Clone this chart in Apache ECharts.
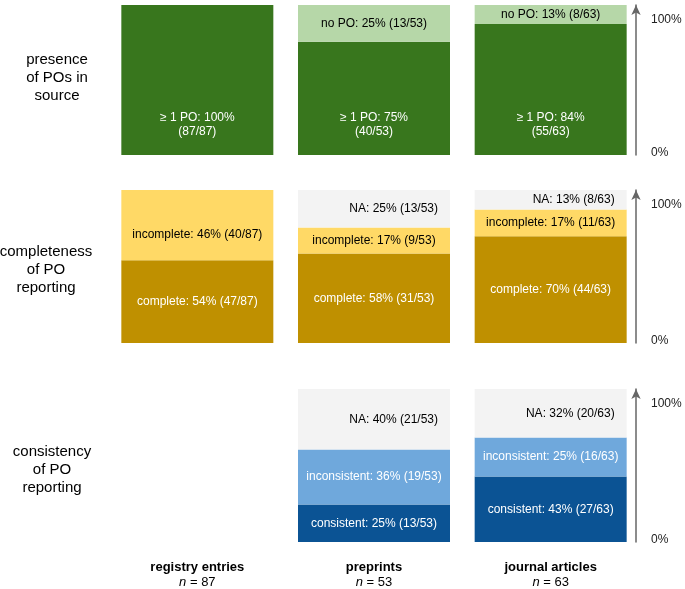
<!DOCTYPE html>
<html>
<head>
<meta charset="utf-8">
<script src="https://cdn.jsdelivr.net/npm/echarts@6/dist/echarts.min.js"></script>
<style>
  html, body { margin: 0; padding: 0; background: #fff; }
  #chart { width: 685px; height: 589px; }
</style>
</head>
<body>
<div id="chart"></div>
<script>
const sources = ["registry entries", "preprints", "journal articles"];
const sampleSizes = [87, 53, 63];
const rowTitles = ["presence\nof POs in\nsource", "completeness\nof PO\nreporting", "consistency\nof PO\nreporting"];

// row 1: presence of POs in source
const onePoCounts = [87, 40, 55];
const onePoPct = [100, 75, 84];
const noPoCounts = [null, 13, 8];
const noPoPct = [null, 25, 13];

// row 2: completeness of PO reporting
const completeCounts = [47, 31, 44];
const completePct = [54, 58, 70];
const incompleteCounts = [40, 9, 11];
const incompletePct = [46, 17, 17];
const complNaCounts = [null, 13, 8];
const complNaPct = [null, 25, 13];

// row 3: consistency of PO reporting
const consistentCounts = [null, 13, 27];
const consistentPct = [null, 25, 43];
const inconsistentCounts = [null, 19, 16];
const inconsistentPct = [null, 36, 25];
const consNaCounts = [null, 21, 20];
const consNaPct = [null, 40, 32];

const FONT = "'Liberation Sans', Arial, sans-serif";
const rowTops = [5, 190, 389];
const rowHeights = [150, 153, 153];
const titlePos = [[57, 78], [46, 270], [52, 470]];

function share(counts) {
    return counts.map((c, i) => (c == null ? null : (c / sampleSizes[i]) * 100));
}

function makeSeries(row, name, counts, pcts, color, textColor, label, extra, itemLabels) {
    const values = share(counts);
    return {
        name: name,
        type: "bar",
        stack: "row" + row,
        xAxisIndex: row,
        yAxisIndex: row,
        barWidth: 152,
        data: itemLabels ? values.map((v, i) => (itemLabels[i] ? { value: v, label: itemLabels[i] } : v)) : values,
        itemStyle: { color: color },
        silent: true,
        label: Object.assign(
            {
                show: true,
                position: "inside",
                color: textColor,
                fontFamily: FONT,
                fontSize: 12,
                lineHeight: 14,
                formatter: (p) => label(pcts[p.dataIndex], counts[p.dataIndex], sampleSizes[p.dataIndex]),
            },
            extra || {}
        ),
    };
}

const grids = rowTops.map((t, i) => ({ left: 109, width: 530, top: t, height: rowHeights[i] }));

const xAxes = rowTops.map((t, i) => ({
    type: "category",
    gridIndex: i,
    data: sources,
    axisLine: { show: false },
    axisTick: { show: false },
    axisLabel: i < 2 ? { show: false } : {
        margin: 18,
        color: "#000",
        fontFamily: FONT,
        fontSize: 13,
        formatter: (v, idx) => "{b|" + v + "}\n{i|n}{r| = " + sampleSizes[idx] + "}",
        rich: {
            b: { fontWeight: "bold", fontSize: 13, lineHeight: 15, fontFamily: FONT, color: "#000" },
            i: { fontStyle: "italic", fontSize: 13, lineHeight: 15, fontFamily: FONT, color: "#000" },
            r: { fontSize: 13, lineHeight: 15, fontFamily: FONT, color: "#000" },
        },
    },
}));

const yAxes = rowTops.map((t, i) => ({
    type: "value",
    gridIndex: i,
    position: "right",
    offset: -3,
    min: 0,
    max: 100,
    interval: 100,
    splitLine: { show: false },
    axisTick: { show: false },
    axisLine: {
        show: true,
        lineStyle: { color: "#666", width: 1.5 },
        symbol: ["none", "arrow"],
        symbolSize: [7, 10],
    },
    axisLabel: {
        margin: 15,
        color: "#222",
        fontFamily: FONT,
        fontSize: 12,
        formatter: (v) => (v === 100 ? "{t|100%}" : "{z|0%}"),
        rich: {
            t: { padding: [30, 0, 0, 0], fontFamily: FONT, fontSize: 12, color: "#222" },
            z: { padding: [0, 0, 4, 0], fontFamily: FONT, fontSize: 12, color: "#222" },
        },
    },
}));

const withCount = (label) => (pct, k, n) => label + ": " + pct + "% (" + k + "/" + n + ")";

const series = [
    makeSeries(0, "≥ 1 PO", onePoCounts, onePoPct, "#38761d", "#fff",
        (pct, k, n) => "≥ 1 PO: " + pct + "%\n(" + k + "/" + n + ")",
        { position: "insideBottom", distance: 16 }),
    makeSeries(0, "no PO", noPoCounts, noPoPct, "#b6d7a8", "#000", withCount("no PO")),

    makeSeries(1, "complete", completeCounts, completePct, "#bf9000", "#fff", withCount("complete")),
    makeSeries(1, "incomplete", incompleteCounts, incompletePct, "#ffd966", "#000", withCount("incomplete"),
        null, [{ offset: [0, 10] }]),
    makeSeries(1, "NA", complNaCounts, complNaPct, "#f3f3f3", "#000", withCount("NA"),
        { position: "insideRight", distance: 12 }),

    makeSeries(2, "consistent", consistentCounts, consistentPct, "#0b5394", "#fff", withCount("consistent")),
    makeSeries(2, "inconsistent", inconsistentCounts, inconsistentPct, "#6fa8dc", "#fff", withCount("inconsistent")),
    makeSeries(2, "NA", consNaCounts, consNaPct, "#f3f3f3", "#000", withCount("NA"),
        { position: "insideRight", distance: 12 }),
];

const chart = echarts.init(document.getElementById("chart"));
chart.setOption({
    backgroundColor: "#fff",
    animation: false,
    grid: grids,
    xAxis: xAxes,
    yAxis: yAxes,
    series: series,
    graphic: rowTitles.map((t, i) => ({
        type: "text",
        x: titlePos[i][0],
        y: titlePos[i][1],
        style: {
            text: t,
            fill: "#000",
            font: "15px " + FONT,
            lineHeight: 18,
            textAlign: "center",
            textVerticalAlign: "middle",
        },
    })),
});
</script>
</body>
</html>
